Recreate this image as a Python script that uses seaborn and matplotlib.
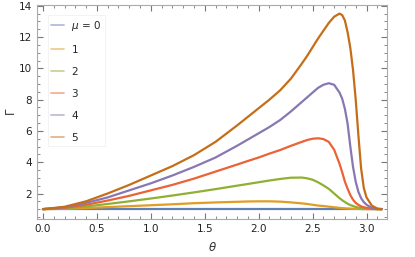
import pandas as pd
import numpy as np
import matplotlib
matplotlib.use('Agg')
import matplotlib.pyplot as plt
import seaborn as sns
from matplotlib.ticker import MultipleLocator

# theta samples and Gamma values
theta = [0.0, 0.2, 0.4, 0.6, 0.8, 1.0, 1.2, 1.4, 1.6, 1.8, 1.9, 2.0, 2.1, 2.2, 2.3, 2.4, 2.45, 2.5,
         2.55, 2.6, 2.65, 2.7, 2.75, 2.775, 2.8, 2.825, 2.85, 2.875, 2.9, 2.925, 2.95, 2.975,
         3.0, 3.05, 3.1, 3.1416]

gamma_mu0 = [1.0] * len(theta)
gamma_mu1 = [1.0, 1.02, 1.07, 1.13, 1.19, 1.25, 1.31, 1.38, 1.43, 1.47, 1.49, 1.5, 1.5, 1.48,
             1.43, 1.37, 1.33, 1.28, 1.23, 1.2, 1.16, 1.12, 1.08, 1.065, 1.05, 1.04, 1.03, 1.02,
             1.02, 1.01, 1.01, 1.0, 1.0, 1.0, 1.0, 1.0]
gamma_mu2 = [1.0, 1.05, 1.17, 1.33, 1.5, 1.68, 1.87, 2.07, 2.28, 2.5, 2.61, 2.72, 2.83, 2.93,
             3.01, 3.02, 2.97, 2.88, 2.72, 2.52, 2.3, 2.0, 1.7, 1.57, 1.45, 1.35, 1.26, 1.2,
             1.14, 1.1, 1.07, 1.05, 1.03, 1.01, 1.0, 1.0]
gamma_mu3 = [1.0, 1.08, 1.28, 1.55, 1.85, 2.2, 2.55, 2.95, 3.4, 3.85, 4.08, 4.3, 4.55, 4.78,
             5.05, 5.3, 5.42, 5.5, 5.53, 5.48, 5.3, 4.8, 3.9, 3.35, 2.75, 2.3, 1.9, 1.6,
             1.4, 1.27, 1.18, 1.12, 1.08, 1.03, 1.0, 1.0]
gamma_mu4 = [1.0, 1.12, 1.4, 1.75, 2.2, 2.65, 3.15, 3.7, 4.3, 5.05, 5.45, 5.85, 6.25, 6.7,
             7.25, 7.85, 8.15, 8.45, 8.75, 8.95, 9.05, 8.95, 8.45, 8.05, 7.4, 6.45, 5.0, 3.7,
             2.75, 2.1, 1.7, 1.45, 1.28, 1.08, 1.01, 1.0]
gamma_mu5 = [1.0, 1.15, 1.5, 2.0, 2.55, 3.15, 3.75, 4.45, 5.3, 6.35, 6.9, 7.45, 8.0, 8.6,
             9.35, 10.3, 10.8, 11.35, 11.9, 12.4, 12.9, 13.3, 13.5, 13.4, 13.05, 12.3, 11.3, 9.9,
             8.0, 5.7, 3.6, 2.35, 1.75, 1.22, 1.04, 1.0]

mu_values = [0, 1, 2, 3, 4, 5]
series = [gamma_mu0, gamma_mu1, gamma_mu2, gamma_mu3, gamma_mu4, gamma_mu5]
colors = ['#5E81B5', '#E19C24', '#8FB032', '#EB6235', '#8778B3', '#C56E1A']
labels = [r'$\mu$ = 0', '1', '2', '3', '4', '5']

df = pd.concat([pd.DataFrame({'theta': theta, 'Gamma': g, 'mu': m})
                for m, g in zip(mu_values, series)], ignore_index=True)

sns.set_style('ticks', {'xtick.direction': 'in', 'ytick.direction': 'in'})
plt.rcParams['font.family'] = ['DejaVu Sans']

fig = plt.figure(figsize=(4.15, 2.57), dpi=100)
ax = fig.add_axes([37 / 415, 1 - 219 / 257, 350 / 415, 214 / 257])

sns.lineplot(data=df, x='theta', y='Gamma', hue='mu', palette=colors, linewidth=1.6,
             ax=ax, legend=False, sort=False)

ax.set_xlim(-0.055, 3.19)
ax.set_ylim(0.37, 14.05)

ax.xaxis.set_major_locator(MultipleLocator(0.5))
ax.xaxis.set_minor_locator(MultipleLocator(0.1))
ax.yaxis.set_major_locator(MultipleLocator(2))
ax.yaxis.set_minor_locator(MultipleLocator(0.5))
ax.set_yticks([2, 4, 6, 8, 10, 12, 14])
ax.tick_params(which='both', direction='in', bottom=True, left=True, top=True, right=True,
               color='#777777', labelsize=7.5, labelcolor='#222222')
ax.tick_params(which='major', length=4, width=0.8)
ax.tick_params(which='minor', length=2.2, width=0.6)
for s in ax.spines.values():
    s.set_visible(True)
    s.set_color('#aaaaaa')
    s.set_linewidth(0.8)

ax.set_xlabel(r'$\theta$', fontsize=8.5, color='#333333', labelpad=5)
ax.set_ylabel(r'$\Gamma$', fontsize=8.5, color='#333333')
ax.yaxis.set_label_coords(-0.055, 0.5)

# legend with faded line samples
handles = [plt.Line2D([], [], color=c, lw=1.2, alpha=0.55) for c in colors]
leg = ax.legend(handles, labels, loc='upper left', bbox_to_anchor=(0.03, 0.953),
                borderaxespad=0, frameon=True, fancybox=False, fontsize=7.5,
                handlelength=1.25, labelspacing=1.15, borderpad=0.35, handletextpad=0.7)
leg.get_frame().set_edgecolor('#eeeeee')
leg.get_frame().set_linewidth(0.6)

fig.savefig('out.png', dpi=100)
